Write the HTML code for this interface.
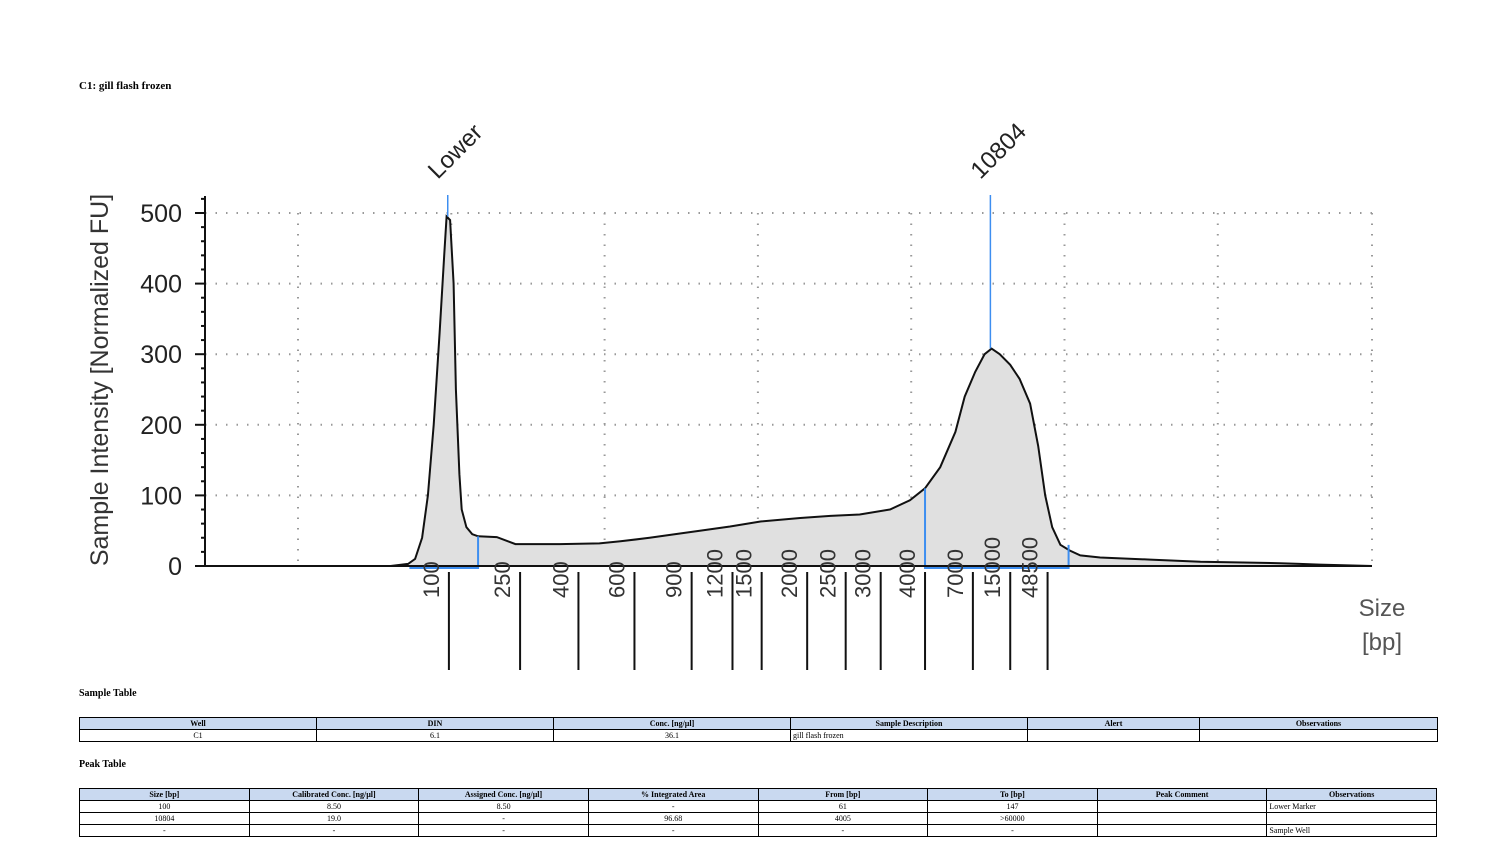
<!DOCTYPE html>
<html><head><meta charset="utf-8"><style>
body{margin:0;background:#fff;width:1510px;height:864px;overflow:hidden;position:relative;font-family:"Liberation Serif",serif}
.t{position:absolute;font-weight:bold;font-size:10px;color:#000}
table{position:absolute;border-collapse:collapse;font-size:8px;font-family:"Liberation Serif",serif;table-layout:fixed}
td,th{border:1px solid #000;padding:0 2px;height:11px;line-height:10px;text-align:center;white-space:nowrap;overflow:hidden}
th{background:#c9d9f0;font-weight:bold}
td.l{text-align:left}
</style></head><body>
<div class="t" style="left:79px;top:80px;font-size:11px">C1: gill flash frozen</div>
<svg id="chart" width="1510" height="690" style="position:absolute;left:0;top:0" font-family="Liberation Sans, DejaVu Sans, sans-serif"></svg>
<div class="t" style="left:79px;top:688px">Sample Table</div>
<table style="left:79px;top:717px;width:1358px">
<colgroup><col style="width:237px"><col style="width:237px"><col style="width:237px"><col style="width:237px"><col style="width:172px"><col style="width:238px"></colgroup>
<tr><th>Well</th><th>DIN</th><th>Conc. [ng/µl]</th><th>Sample Description</th><th>Alert</th><th>Observations</th></tr>
<tr><td>C1</td><td>6.1</td><td>36.1</td><td class="l">gill flash frozen</td><td></td><td></td></tr>
</table>
<div class="t" style="left:79px;top:759px">Peak Table</div>
<table style="left:79px;top:788px;width:1358px">
<tr><th>Size [bp]</th><th>Calibrated Conc. [ng/µl]</th><th>Assigned Conc. [ng/µl]</th><th>% Integrated Area</th><th>From [bp]</th><th>To [bp]</th><th>Peak Comment</th><th>Observations</th></tr>
<tr><td>100</td><td>8.50</td><td>8.50</td><td>-</td><td>61</td><td>147</td><td></td><td class="l">Lower Marker</td></tr>
<tr><td>10804</td><td>19.0</td><td>-</td><td>96.68</td><td>4005</td><td>&gt;60000</td><td></td><td></td></tr>
<tr><td>-</td><td>-</td><td>-</td><td>-</td><td>-</td><td>-</td><td></td><td class="l">Sample Well</td></tr>
</table>
<script>
const runTimes=[1.3,15.9,17.4,18.0,18.6,19.1,19.6,20.1,20.5,20.7,21.0,21.3,21.5,21.8,22.0,22.4,22.9,23.4,25.0,26.6,27.4,30.4,33.8,35.6,38.1,40.7,42.4,45.0,47.6,51.0,53.6,56.1,58.7,60.4,61.7,63.0,64.3,65.1,66.0,66.8,67.4,68.1,69.0,69.8,70.7,71.4,72.0,72.6,73.3,74.1,75.0,76.7,81.0,85.3,92.1,93.8,95.5,100];
const intensities=[0,0,3,10,40,100,200,330,440,495,490,400,250,130,80,55,45,42,41,31,31,31,32,35,40,46,50,56,63,68,71,73,80,93,110,140,190,240,275,300,308,300,285,265,230,170,100,55,30,22,15,12,9,6,4,3,2,0];
const ladderSizes=["100","250","400","600","900","1200","1500","2000","2500","3000","4000","7000","15000","48500"];
const ladderTimes=[20.9,27.0,32.0,36.8,41.7,45.2,47.7,51.6,54.9,57.9,61.7,65.8,69.0,72.2];
const yTicks=[0,100,200,300,400,500];
const peakLabels=["Lower","10804"];
const peakTimes=[20.8,67.3];
const peakValues=[495,308];
const regionStarts=[17.6,61.7];
const regionEnds=[23.4,74.0];
const regionStartVals=[0,110];
const regionEndVals=[42,30];

const NS="http://www.w3.org/2000/svg";
const svg=document.getElementById('chart');
const X0=205,X1=1372,Y0=566,Y500=213;
const xs=t=>X0+(X1-X0)*t/100;
const ys=v=>Y0-(Y0-Y500)*v/500;
function mk(tag,attrs,parent){const e=document.createElementNS(NS,tag);for(const k in attrs)e.setAttribute(k,attrs[k]);(parent||svg).appendChild(e);return e;}

for(const v of yTicks.slice(1)){const g=mk('line',{x1:X0,x2:X1,y1:ys(v),y2:ys(v),stroke:'#999','stroke-width':2,'stroke-dasharray':'1.5 9'});

}
for(let i=1;i<=8;i++){const x=i===8?X1:X0+(i===1?93:93+(i-1)*153.3);const g=mk('line',{x1:x,x2:x,y1:ys(500),y2:Y0,stroke:'#999','stroke-width':2,'stroke-dasharray':'1.5 9'});

}

let d='M'+xs(runTimes[0])+','+ys(0);
runTimes.forEach((t,i)=>{d+=' L'+xs(t).toFixed(1)+','+ys(intensities[i]).toFixed(1);});
const area=mk('path',{d:d+' Z',fill:'#e0e0e0',stroke:'none'});


const line=mk('path',{d:d,fill:'none',stroke:'#111','stroke-width':2});



regionStarts.forEach((s,i)=>{const e=regionEnds[i];
const p=mk('path',{d:`M${xs(s)},${ys(regionStartVals[i])} L${xs(s)},${Y0+2} L${xs(e)},${Y0+2} L${xs(e)},${ys(regionEndVals[i])}`,fill:'none',stroke:'#3d8ef0','stroke-width':2});

});

peakTimes.forEach((t,i)=>{const x=xs(t);
const l=mk('line',{x1:x,x2:x,y1:195,y2:ys(peakValues[i]),stroke:'#3d8ef0','stroke-width':1.5});


const tx=mk('text',{x:x-10,y:180,'font-size':24,fill:'#222',transform:`rotate(-45 ${x-10} 180)`});
tx.textContent=peakLabels[i];

});

const ax=mk('line',{x1:X0,x2:X1,y1:Y0,y2:Y0,stroke:'#111','stroke-width':2});


const ay=mk('line',{x1:X0,x2:X0,y1:196,y2:Y0,stroke:'#111','stroke-width':2});


for(let v=0;v<=520;v+=20){const major=v%100===0;const t=mk('line',{x1:X0-(major?10:4),x2:X0,y1:ys(v),y2:ys(v),stroke:'#111','stroke-width':2});

}
yTicks.forEach(v=>{const t=mk('text',{x:182,y:ys(v)+9,'font-size':25,'text-anchor':'end',fill:'#222'});t.textContent=v;

});
const yt=mk('text',{x:108,y:380,'font-size':25,'text-anchor':'middle',fill:'#333',transform:'rotate(-90 108 380)'});
yt.textContent='Sample Intensity [Normalized FU]';


const xt1=mk('text',{x:1382,y:616,'font-size':24,'text-anchor':'middle',fill:'#555'});xt1.textContent='Size';


const xt2=mk('text',{x:1382,y:650,'font-size':24,'text-anchor':'middle',fill:'#555'});xt2.textContent='[bp]';



ladderTimes.forEach((t,i)=>{const x=xs(t);
const l=mk('line',{x1:x,x2:x,y1:572,y2:670,stroke:'#111','stroke-width':2});


const lx=x-10;
const tx=mk('text',{x:lx,y:598,'font-size':22,fill:'#333',transform:`rotate(-90 ${lx} 598)`});
tx.textContent=ladderSizes[i];

});
</script>
</body></html>
